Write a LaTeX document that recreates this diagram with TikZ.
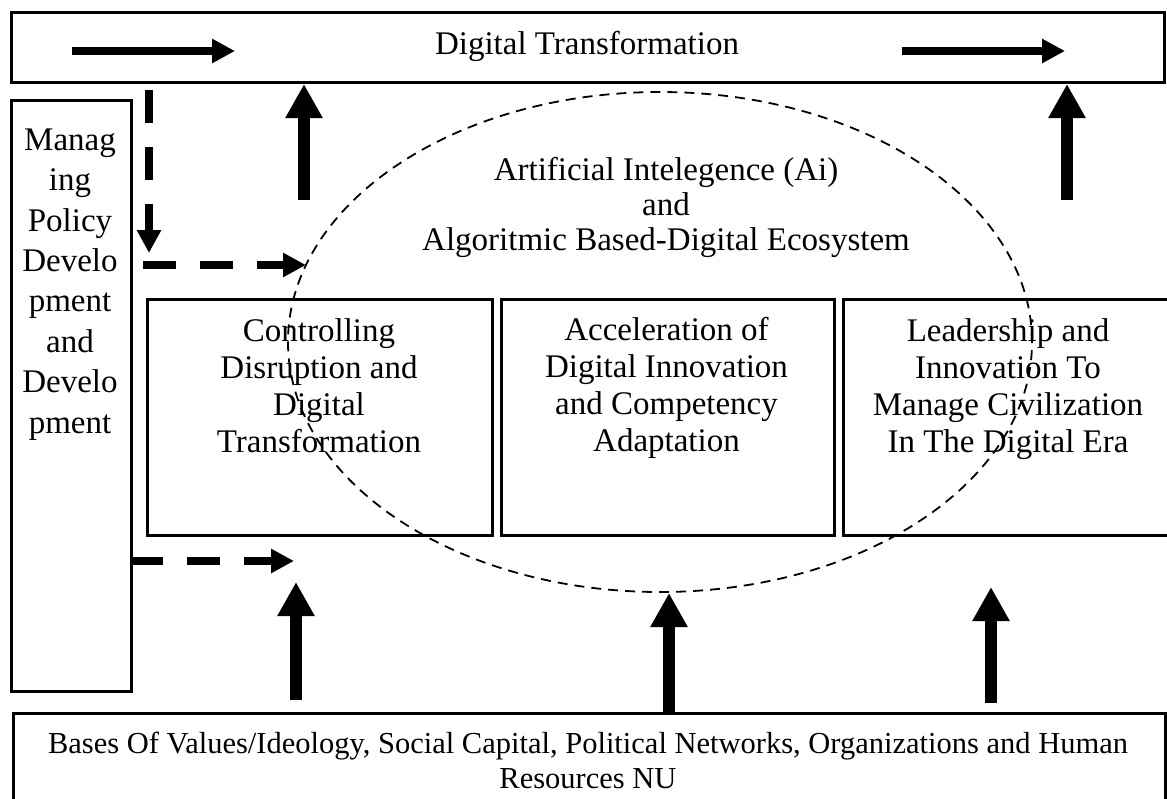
\documentclass[tikz,border=0pt]{standalone}
\usepackage{fontspec}
\setmainfont{Liberation Serif}
\usetikzlibrary{arrows.meta,shapes.geometric}
\begin{document}
\begin{tikzpicture}[x=1pt,y=-1pt,
  box/.style={draw, line width=2.6pt, inner sep=0pt, anchor=north west},
  txt/.style={align=center, inner sep=0pt, anchor=base, font=\fontsize{33}{37}\selectfont},
  bigup/.style={line width=12pt, -{Triangle[length=34pt,width=35pt]}},
  flow/.style={line width=8pt, -{Triangle[length=23pt,width=23pt]}},
  dflow/.style={flow, dash pattern=on 33pt off 24pt},
  oval/.style={draw, dashed, line width=1.8pt, dash pattern=on 10pt off 7pt}]
\clip (0,0) rectangle (1167,798);
\fill[white] (0,0) rectangle (1167,798);

% frames
\node[box, minimum width=1153pt, minimum height=70pt] (dt) at (10,11) {};
\node[box, minimum width=120pt, minimum height=591pt] (mp) at (10,99) {};
\node[box, minimum width=345pt, minimum height=236pt] (b1) at (146,298) {};
\node[box, minimum width=333pt, minimum height=236pt] (b2) at (500,298) {};
\node[box, minimum width=340pt, minimum height=236pt] (b3) at (842,298) {};
\node[box, minimum width=1152pt, minimum height=110pt] (nu) at (12,712) {};

% texts (anchored at the baseline of their last line)
\node[txt] (tdt) at (587,54) {Digital Transformation};
\node[txt, font=\fontsize{33}{40.4}\selectfont] (tmp) at (70,433)
  {Manag\\ing\\Policy\\Develo\\pment\\and\\Develo\\pment};
\node[txt, font=\fontsize{33}{35}\selectfont] (tai) at (666,250)
  {Artificial Intelegence (Ai)\\and\\Algoritmic Based-Digital Ecosystem};
\node[txt] (tb1) at (319,452) {Controlling\\Disruption and\\Digital\\Transformation};
\node[txt] (tb2) at (666.5,451) {Acceleration of\\Digital Innovation\\and Competency\\Adaptation};
\node[txt] (tb3) at (1008,452) {Leadership and\\Innovation To\\Manage Civilization\\In The Digital Era};
\node[txt, font=\fontsize{30.5}{35}\selectfont] (tnu) at (588,788)
  {Bases Of Values/Ideology, Social Capital, Political Networks, Organizations and Human\\Resources NU};

% ecosystem oval
\node[oval, ellipse, minimum width=744pt, minimum height=500pt, inner sep=0pt] (eco) at (660,342) {};

% arrow end points
\coordinate (h1a) at (72,51);   \coordinate (h1b) at (235,51);
\coordinate (h2a) at (902,51);  \coordinate (h2b) at (1065,51);
\coordinate (u1a) at (304,200); \coordinate (u1b) at (304,84);
\coordinate (u2a) at (1067,200);\coordinate (u2b) at (1067,84);
\coordinate (d1a) at (149,90);  \coordinate (d1b) at (149,253);
\coordinate (d2a) at (143,265); \coordinate (d2b) at (306,265);
\coordinate (d3a) at (130,561); \coordinate (d3b) at (294,561);
\coordinate (l1a) at (296,700); \coordinate (l1b) at (296,582);
\coordinate (l2a) at (669,712); \coordinate (l2b) at (669,593);
\coordinate (l3a) at (991,703); \coordinate (l3b) at (991,587);

% arrows
\draw[flow] (h1a) -- (h1b);
\draw[flow] (h2a) -- (h2b);
\draw[bigup] (u1a) -- (u1b);
\draw[bigup] (u2a) -- (u2b);
\draw[dflow] (d1a) -- (d1b);
\draw[dflow] (d2a) -- (d2b);
\draw[dflow] (d3a) -- (d3b);
\draw[bigup] (l1a) -- (l1b);
\draw[bigup] (l2a) -- (l2b);
\draw[bigup] (l3a) -- (l3b);
\end{tikzpicture}
\end{document}
